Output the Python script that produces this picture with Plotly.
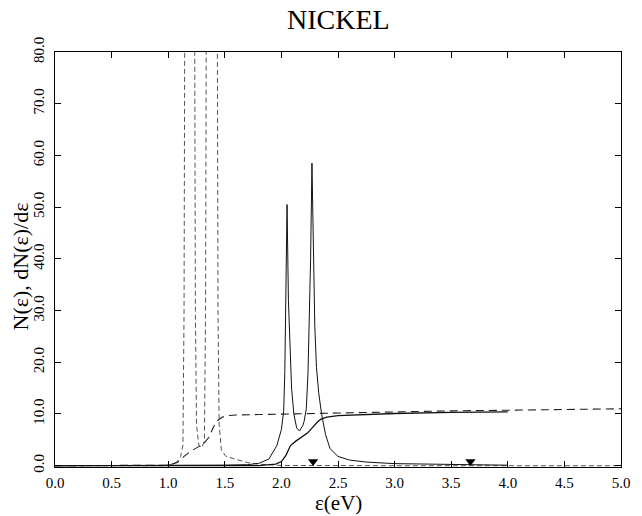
import plotly.graph_objects as go

# ---- data ----
# solid curve: density with two sharp peaks
x_peaks = [0.0, 0.5, 1.0, 1.5, 1.7, 1.8, 1.89, 1.96, 2.0, 2.02, 2.03, 2.038, 2.05,
           2.062, 2.075, 2.09, 2.11, 2.135, 2.16, 2.19, 2.2, 2.22, 2.235, 2.245, 2.258,
           2.27, 2.283, 2.295, 2.31, 2.33, 2.355, 2.39, 2.43, 2.5, 2.6, 2.75, 3.0, 3.5, 4.0]
y_peaks = [0.0, 0.0, 0.05, 0.12, 0.2, 0.45, 1.3, 3.9, 7.0, 10.5, 18.0, 30.0, 50.5,
           32.0, 22.0, 15.0, 10.0, 7.3, 6.7, 7.8, 8.5, 11.0, 18.0, 27.0, 40.0,
           58.5, 38.0, 27.0, 19.0, 14.0, 10.0, 6.0, 3.3, 1.8, 1.1, 0.7, 0.4, 0.2, 0.1]

# solid curve: integrated (step-like)
x_int = [0.0, 1.8, 1.95, 2.0, 2.04, 2.08, 2.13, 2.18, 2.23, 2.28, 2.32, 2.35, 2.4,
         2.5, 2.8, 3.0, 3.5, 4.0]
y_int = [0.0, 0.0, 0.3, 0.8, 2.0, 3.9, 4.8, 5.5, 6.3, 7.5, 8.5, 9.0, 9.4,
         9.7, 10.0, 10.1, 10.3, 10.4]

# dashed curve: density with two off-scale spikes
x_spikes = [0.0, 0.95, 1.04, 1.08, 1.11, 1.13, 1.14, 1.15, 1.19, 1.23, 1.24, 1.25, 1.27,
            1.30, 1.32, 1.33, 1.34, 1.385, 1.43, 1.44, 1.45, 1.47, 1.51, 1.6, 1.7, 1.8,
            1.9, 2.0, 3.0, 4.0, 5.0]
y_spikes = [0.0, 0.0, 0.3, 0.8, 1.8, 4.0, 30.0, 120.0, 300.0, 120.0, 30.0, 8.0, 4.0,
            3.5, 5.0, 30.0, 120.0, 300.0, 120.0, 30.0, 8.0, 3.0, 1.8, 1.2, 0.6, 0.3,
            0.15, 0.05, 0.0, 0.0, 0.0]

# dashed curve: integrated
x_dint = [0.0, 0.95, 1.0, 1.08, 1.14, 1.2, 1.26, 1.31, 1.36, 1.40, 1.44, 1.48, 1.53,
          1.6, 1.8, 2.0, 2.5, 3.0, 3.5, 4.0, 4.5, 5.0]
y_dint = [0.0, 0.0, 0.1, 0.6, 1.8, 2.8, 3.5, 4.2, 5.5, 7.5, 8.8, 9.4, 9.7,
          9.8, 9.9, 10.0, 10.2, 10.4, 10.6, 10.7, 10.9, 11.0]

marker_x = [2.28, 3.67]
marker_y = [0.8, 0.8]

x_tick_vals = [0.0, 0.5, 1.0, 1.5, 2.0, 2.5, 3.0, 3.5, 4.0, 4.5, 5.0]
x_tick_text = ["0.0", "0.5", "1.0", "1.5", "2.0", "2.5", "3.0", "3.5", "4.0", "4.5", "5.0"]
y_tick_vals = [0, 10, 20, 30, 40, 50, 60, 70, 80]
y_tick_text = ["0.0", "10.0", "20.0", "30.0", "40.0", "50.0", "60.0", "70.0", "80.0"]

SERIF = "Liberation Serif, Times New Roman, serif"

fig = go.Figure()
fig.add_trace(go.Scatter(x=x_spikes, y=y_spikes, mode="lines",
                         line=dict(color="#555555", width=1, dash="5px,3px")))
fig.add_trace(go.Scatter(x=x_dint, y=y_dint, mode="lines",
                         line=dict(color="#222222", width=1.1, dash="8px,5px")))
fig.add_trace(go.Scatter(x=x_peaks, y=y_peaks, mode="lines",
                         line=dict(color="#111111", width=1)))
fig.add_trace(go.Scatter(x=x_int, y=y_int, mode="lines",
                         line=dict(color="#111111", width=1.3)))
fig.add_trace(go.Scatter(x=marker_x, y=marker_y, mode="markers",
                         marker=dict(symbol="triangle-down", size=9, color="black")))

axis_common = dict(showline=True, linecolor="black", linewidth=1, mirror="ticks",
                   ticks="inside", ticklen=6, tickcolor="black", tickwidth=1,
                   showgrid=False, zeroline=False,
                   tickfont=dict(family=SERIF, size=15, color="black"))

fig.update_xaxes(range=[0, 5], tickmode="array", tickvals=x_tick_vals, ticktext=x_tick_text,
                 ticklabelstandoff=2, **axis_common)
fig.update_yaxes(range=[-0.25, 80], tickmode="array", tickvals=y_tick_vals, ticktext=y_tick_text,
                 tickangle=-90, ticklabelstandoff=4, **axis_common)

fig.update_layout(
    width=642, height=516,
    margin=dict(l=55, r=18, t=52, b=49),
    paper_bgcolor="white", plot_bgcolor="white",
    showlegend=False,
    annotations=[
        dict(text="NICKEL", x=0.5, y=1.0, xref="paper", yref="paper",
             yshift=33, showarrow=False, xanchor="center", yanchor="middle",
             font=dict(family=SERIF, size=28, color="black")),
        dict(text="ε(eV)", x=0.5, y=0, xref="paper", yref="paper",
             yshift=-36, showarrow=False, xanchor="center", yanchor="middle",
             font=dict(family=SERIF, size=21, color="black")),
        dict(text="N(ε), dN(ε)/dε", x=0, y=0.5, xref="paper", yref="paper",
             xshift=-35, yshift=-7, showarrow=False, xanchor="center", yanchor="middle",
             textangle=-90,
             font=dict(family=SERIF, size=22, color="black")),
    ],
)

fig.write_html("out.html")
